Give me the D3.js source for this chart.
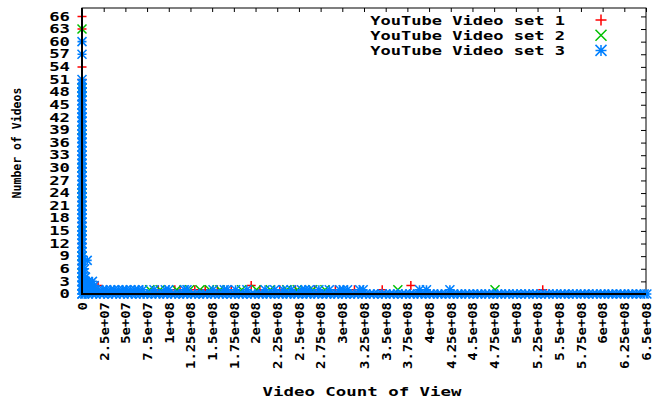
<!DOCTYPE html>
<html>
<head>
<meta charset="utf-8">
<script src="https://cdn.jsdelivr.net/npm/d3@7"></script>
<style>
  body { margin: 0; background: #fff; }
  text { font-family: "DejaVu Sans Mono", monospace; font-weight: bold; fill: #000; }
</style>
</head>
<body>
<script>
// x values are in millions of views
var xTicks = [0, 25, 50, 75, 100, 125, 150, 175, 200, 225, 250, 275, 300, 325, 350,
  375, 400, 425, 450, 475, 500, 525, 550, 575, 600, 625, 650];
var xTickLabels = ["0", "2.5e+07", "5e+07", "7.5e+07", "1e+08", "1.25e+08", "1.5e+08",
  "1.75e+08", "2e+08", "2.25e+08", "2.5e+08", "2.75e+08", "3e+08", "3.25e+08", "3.5e+08",
  "3.75e+08", "4e+08", "4.25e+08", "4.5e+08", "4.75e+08", "5e+08", "5.25e+08", "5.5e+08",
  "5.75e+08", "6e+08", "6.25e+08", "6.5e+08"];
var yTicks = [0, 3, 6, 9, 12, 15, 18, 21, 24, 27, 30, 33, 36, 39, 42, 45, 48, 51, 54, 57, 60, 63, 66];
var seriesNames = ["YouTube Video set 1", "YouTube Video set 2", "YouTube Video set 3"];
var seriesColors = ["#ff0000", "#00c000", "#0080ff"];

// set 1 (red +)
var set1 = [[0, 66], [0, 63], [0, 54], [0, 51], [0, 49], [0, 46], [0, 38], [0, 33], [0, 30],
  [0, 28], [0, 26], [0, 24], [0, 22], [0, 17], [0, 12], [0, 7], [0, 4], [18.5, 2],
  [88, 1], [107, 1], [113, 1], [130, 1], [142, 1], [156, 1], [172, 1], [195, 2], [205, 1],
  [228, 1], [246, 1], [268, 1], [292, 1], [314, 1], [346, 1], [379, 2], [531, 1]];

// set 2 (green x)
var set2 = [[0, 63], [0, 49], [0, 48], [0, 39], [0, 30], [0, 25], [0, 24], [0, 22], [0, 15],
  [0, 9], [0, 5], [78, 1], [90, 1], [109, 1], [124, 1], [136, 1], [147, 1], [159, 1],
  [184, 1], [201, 1], [217, 1], [236, 1], [248, 1], [266, 1], [280, 1], [364, 1], [476, 1]];

// set 3 (blue *)
var set3ColumnY = [0, 1, 2, 3, 4, 5, 6, 7, 8, 9, 10, 11, 12, 13, 14, 15, 16, 17, 18, 19, 20,
  21, 22, 23, 24, 25, 26, 27, 28, 29, 30, 31, 32, 33, 34, 35, 36, 37, 38, 39, 40, 41, 42,
  43, 44, 45, 46, 47, 48, 49, 50, 51, 57, 60];
var set3Small = [[6, 8], [3, 6], [2, 5], [4, 4], [12, 3], [7, 3], [3, 3], [5, 2], [9, 2],
  [14, 2], [2, 2]];
var set3CountOne = [1, 5, 10, 14, 19, 24, 28, 33, 37, 42, 47, 51, 56, 61, 65, 70, 83, 96, 100,
  118, 121, 151, 164, 167, 177, 190, 211, 222, 232, 241, 253, 257, 262, 273, 285, 297, 301,
  306, 320, 324, 389, 397, 424];
var set3CountZero = [0, 3, 7, 12, 16, 21, 25, 30, 35, 39, 44, 48, 53, 57, 62, 67, 71, 75, 80,
  85, 89, 94, 98, 103, 107, 112, 117, 121, 126, 130, 135, 140, 144, 149, 153, 158, 162, 167,
  172, 176, 181, 185, 190, 195, 199, 204, 208, 213, 217, 222, 227, 231, 236, 240, 245, 249,
  254, 259, 263, 268, 272, 277, 282, 286, 291, 295, 300, 304, 309, 314, 318, 323, 327, 332,
  336, 341, 346, 350, 355, 359, 364, 369, 373, 378, 382, 387, 391, 396, 401, 405, 410, 414,
  419, 424, 428, 433, 437, 442, 446, 451, 456, 460, 465, 469, 474, 479, 483, 488, 492, 497,
  501, 506, 511, 515, 520, 524, 529, 534, 538, 543, 547, 552, 556, 561, 566, 570, 575, 579,
  584, 589, 593, 598, 602, 607, 611, 616, 621, 625, 630, 634, 639, 644, 648, 651];

var set3 = []
  .concat(set3CountZero.map(function (x) { return [x, 0]; }))
  .concat(set3CountOne.map(function (x) { return [x, 1]; }))
  .concat(set3ColumnY.map(function (y) { return [0, y]; }))
  .concat(set3Small);

var width = 671,
    height = 403;
var plotL = 82, plotR = 646, plotT = 8, plotB = 294;

var svg = d3.select("body")
    .append("svg")
    .attr("width", width)
    .attr("height", height);

var x = d3.scaleLinear().domain([0, 650]).range([plotL, plotR]);
var y = d3.scaleLinear().domain([0, 68]).range([plotB, plotT]);

// symbols
function symbolPath(kind, r) {
  var plus = "M" + (-r) + ",0H" + r + "M0," + (-r) + "V" + r;
  var cross = "M" + (-r) + "," + (-r) + "L" + r + "," + r + "M" + (-r) + "," + r + "L" + r + "," + (-r);
  if (kind == 0) return plus;
  if (kind == 1) return cross;
  return plus + cross;
}

// ticks + border under the points
var under = svg.append("g");
under.append("rect")
    .attr("x", plotL).attr("y", plotT)
    .attr("width", plotR - plotL).attr("height", plotB - plotT)
    .attr("fill", "none").attr("stroke", "#000").attr("stroke-width", 1);

var topAxis = under.append("g")
    .attr("transform", "translate(0," + plotT + ")")
    .call(d3.axisTop(x).tickValues(xTicks).tickSize(-4).tickSizeOuter(0).tickFormat(""));
var rightAxis = under.append("g")
    .attr("transform", "translate(" + plotR + ",0)")
    .call(d3.axisRight(y).tickValues(yTicks).tickSize(-5).tickSizeOuter(0).tickFormat(""));
topAxis.select(".domain").remove();
rightAxis.select(".domain").remove();

// points
var allSets = [set1, set2, set3];
allSets.forEach(function (data, i) {
  svg.append("g")
      .selectAll("path")
      .data(data)
      .enter()
      .append("path")
      .attr("transform", function (d) {
        return "translate(" + x(d[0]) + "," + y(d[1]) + ")";
      })
      .attr("d", symbolPath(i, 4.5))
      .attr("fill", "none")
      .attr("stroke", seriesColors[i])
      .attr("stroke-width", i == 2 ? 1.6 : 1.5);
});

// left / bottom axes over the points
var leftAxis = svg.append("g")
    .attr("transform", "translate(" + plotL + ",0)")
    .call(d3.axisLeft(y).tickValues(yTicks).tickSize(0).tickSizeOuter(0)
      .tickFormat(function (d, i) { return String(yTicks[i]); }));
leftAxis.select(".domain").remove();
leftAxis.selectAll("text")
    .attr("x", null)
    .attr("transform", "translate(-12,0) scale(1.5,1)")
    .style("font-size", "11.5px");

var bottomAxis = svg.append("g")
    .attr("transform", "translate(0," + plotB + ")")
    .call(d3.axisBottom(x).tickValues(xTicks).tickSize(0).tickSizeOuter(0)
      .tickFormat(function (d, i) { return xTickLabels[i]; }));
bottomAxis.select(".domain").remove();
bottomAxis.selectAll("text")
    .attr("y", null)
    .attr("dy", "0.36em")
    .attr("text-anchor", "end")
    .attr("transform", "translate(0,8) rotate(-90) scale(1.16,1)")
    .style("font-size", "12px");

svg.append("line")
    .attr("x1", plotL).attr("x2", plotL).attr("y1", plotT).attr("y2", plotB + 1)
    .attr("stroke", "#000").attr("stroke-width", 2);
svg.append("line")
    .attr("x1", plotL - 1).attr("x2", plotR).attr("y1", plotB).attr("y2", plotB)
    .attr("stroke", "#000").attr("stroke-width", 2);

// legend
var legend = svg.append("g");
seriesNames.forEach(function (name, i) {
  var cy = 20 + i * 15.2;
  legend.append("text")
      .attr("transform", "translate(565," + (cy + 4.5) + ") scale(1.42,1)")
      .attr("text-anchor", "end")
      .style("font-size", "12px")
      .text(name);
  legend.append("path")
      .attr("transform", "translate(601," + cy + ")")
      .attr("d", symbolPath(i, 5.5))
      .attr("fill", "none")
      .attr("stroke", seriesColors[i])
      .attr("stroke-width", 1.5);
});

// axis titles
svg.append("text")
    .attr("transform", "translate(362,396) scale(1.45,1)")
    .attr("text-anchor", "middle")
    .style("font-size", "12px")
    .text("Video Count of View");
svg.append("text")
    .attr("transform", "translate(21,143) rotate(-90)")
    .attr("text-anchor", "middle")
    .style("font-size", "11.5px")
    .text("Number of Videos");
</script>
</body>
</html>
